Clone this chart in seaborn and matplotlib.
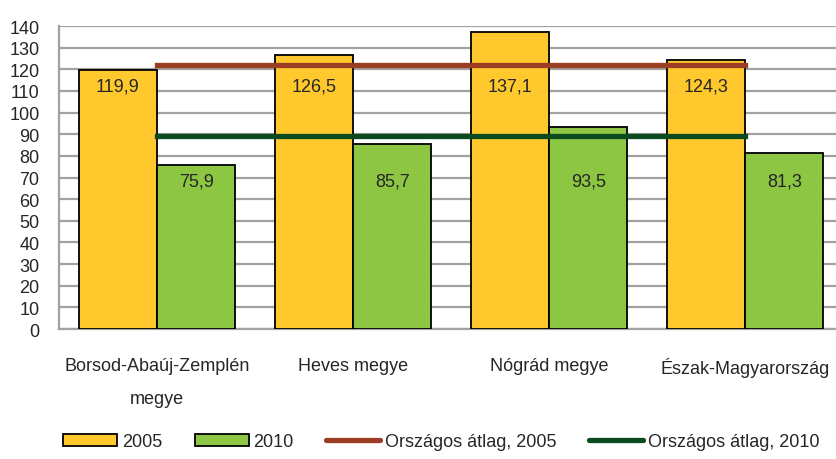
"""Megyei mutatok 2005 / 2010, orszagos atlaggal."""
import matplotlib
matplotlib.use("Agg")
import matplotlib.pyplot as plt
import seaborn as sns
import pandas as pd
from matplotlib.patches import Patch
from matplotlib.lines import Line2D

# adatok
teruletek = ["Borsod-Abaúj-Zemplén\nmegye", "Heves megye", "Nógrád megye", "Észak-Magyarország"]
ertek_2005 = [119.9, 126.5, 137.1, 124.3]
ertek_2010 = [75.9, 85.7, 93.5, 81.3]
evek = ["2005", "2010"]
orszagos_2005 = 122
orszagos_2010 = 89
y_ticks = list(range(0, 141, 10))

SARGA = "#FFC92E"
ZOLD = "#8DC643"
BARNA = "#9A3D22"
SOTETZOLD = "#0B4A1E"
RACS = "#A2A2A2"
BETU = 13

df = pd.DataFrame({
    "terulet": teruletek * 2,
    "ev": [evek[0]] * 4 + [evek[1]] * 4,
    "ertek": ertek_2005 + ertek_2010,
})

sns.set_style("white")
plt.rcParams["font.family"] = ["Liberation Sans Narrow", "Liberation Sans", "DejaVu Sans"]

fig = plt.figure(figsize=(8.37, 4.6), dpi=100)
ax = fig.add_axes([0.0705, 0.2826, 0.9367, 0.6587])

sns.barplot(data=df, x="terulet", y="ertek", hue="ev", palette=[SARGA, ZOLD],
            width=0.8, edgecolor="black", linewidth=1.3, saturation=1,
            legend=False, ax=ax, zorder=3)

# orszagos atlag vonalak (elso csoport kozepetol az utolsoig)
for szint, szin in [(orszagos_2005, BARNA), (orszagos_2010, SOTETZOLD)]:
    ax.hlines(szint, 0, len(teruletek) - 1, color=szin, lw=3.8, zorder=4,
              capstyle="projecting")

# ertekcimkek: soronkent egy magassagban, az oszlopokon belul
for i, sor in enumerate([ertek_2005, ertek_2010]):
    cimke_y = min(sor) - 7.5
    for j, v in enumerate(sor):
        p = ax.patches[i * len(teruletek) + j]
        ax.text(p.get_x() + p.get_width() / 2, cimke_y, f"{v:.1f}".replace(".", ","),
                ha="center", va="center", fontsize=BETU, zorder=5)

ax.set_xlim(-0.5, len(teruletek) - 0.5)
ax.set_ylim(0, 140)
ax.set_yticks(y_ticks)
ax.tick_params(axis="y", labelsize=BETU, length=7, width=1.3, color=RACS, direction="out", pad=7)
ax.set_xticks(range(len(teruletek)))
ax.set_xticklabels(teruletek, fontsize=BETU, linespacing=2.25)
ax.tick_params(axis="x", length=0, pad=20)
ax.set_xticks([i - 0.5 for i in range(len(teruletek) + 1)], minor=True)
ax.tick_params(axis="x", which="minor", length=8, width=1.3, color=RACS, direction="out")
ax.set_xlabel("")
ax.set_ylabel("")

ax.yaxis.grid(True, color=RACS, lw=1.6, zorder=0)
ax.set_axisbelow(True)
for s in ["top", "right"]:
    ax.spines[s].set_visible(False)
for s in ["left", "bottom"]:
    ax.spines[s].set_color(RACS)
    ax.spines[s].set_linewidth(1.6)

kezelok = [
    Patch(facecolor=SARGA, edgecolor="black", lw=1.3),
    Patch(facecolor=ZOLD, edgecolor="black", lw=1.3),
    Line2D([], [], color=BARNA, lw=3.8),
    Line2D([], [], color=SOTETZOLD, lw=3.8),
]
cimkek = ["2005", "2010", "Országos átlag, 2005", "Országos átlag, 2010"]
fig.legend(kezelok, cimkek, loc="center left", bbox_to_anchor=(0.067, 0.037),
           ncol=4, frameon=False, fontsize=BETU, handlelength=3.0, handleheight=0.6,
           handletextpad=0.25, columnspacing=1.8, borderaxespad=0)

fig.savefig("out.png", dpi=100)
